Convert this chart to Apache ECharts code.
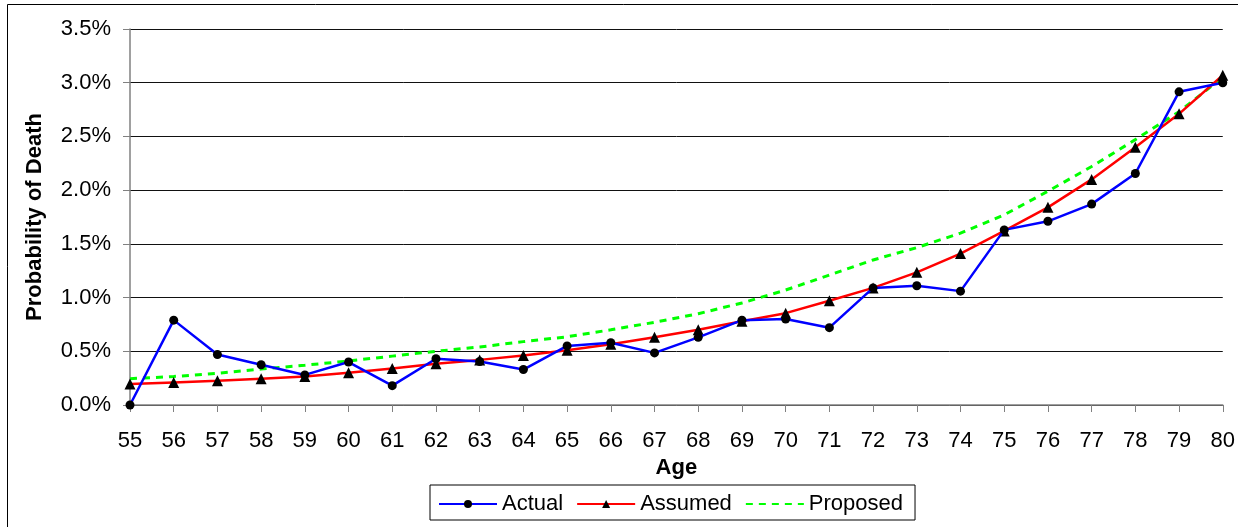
<!DOCTYPE html>
<html><head><meta charset="utf-8">
<script src="https://cdn.jsdelivr.net/npm/echarts@6/dist/echarts.min.js"></script>
<style>html,body{margin:0;padding:0;background:#fff}#c{width:1238px;height:527px}</style>
</head><body><div id="c"></div>
<script>
const ages = ['55','56','57','58','59','60','61','62','63','64','65','66','67','68','69','70','71','72','73','74','75','76','77','78','79','80'];
const actual = [0.00,0.79,0.47,0.375,0.28,0.40,0.18,0.43,0.405,0.33,0.55,0.58,0.485,0.63,0.79,0.80,0.72,1.09,1.11,1.06,1.63,1.71,1.87,2.155,2.915,3.00];
const assumed = [0.195,0.21,0.225,0.245,0.265,0.30,0.34,0.385,0.42,0.46,0.51,0.565,0.63,0.70,0.78,0.855,0.97,1.09,1.235,1.41,1.62,1.84,2.10,2.40,2.71,3.07];
const proposed = [0.245,0.265,0.295,0.335,0.37,0.41,0.455,0.50,0.54,0.59,0.635,0.70,0.77,0.85,0.95,1.07,1.21,1.35,1.465,1.60,1.77,1.99,2.22,2.47,2.73,3.05];
const yTicks = {min:0, max:3.5, step:0.5};

const chart = echarts.init(document.getElementById('c'));
const FONT = 'Liberation Sans, Arial, sans-serif';
chart.setOption({
  animation:false,
  backgroundColor:'#fff',
  graphic:[{type:'rect',shape:{x:7.5,y:4.5,width:1240,height:530},style:{fill:'none',stroke:'#000',lineWidth:1},silent:true}],
  grid:{left:130,right:15,top:29,bottom:122,containLabel:false},
  xAxis:{type:'category',data:ages,boundaryGap:false,
    name:'Age',nameLocation:'middle',nameGap:51,
    nameTextStyle:{fontFamily:FONT,fontSize:22,fontWeight:'bold',color:'#000'},
    axisLine:{lineStyle:{color:'#808080',width:1.5}},
    axisTick:{show:true,length:7,lineStyle:{color:'#808080'},alignWithLabel:true},
    axisLabel:{fontFamily:FONT,fontSize:22,color:'#000',margin:25},
    splitLine:{show:false}},
  yAxis:{type:'value',min:yTicks.min,max:yTicks.max,interval:yTicks.step,
    name:'Probability of Death',nameLocation:'middle',nameGap:84,nameRotate:90,
    nameTextStyle:{fontFamily:FONT,fontSize:22,fontWeight:'bold',color:'#000'},
    axisLine:{show:true,lineStyle:{color:'#808080',width:1.5}},
    axisTick:{show:true,length:7,lineStyle:{color:'#808080'}},
    axisLabel:{fontFamily:FONT,fontSize:22,color:'#000',margin:19,formatter:v=>v.toFixed(1)+'%'},
    splitLine:{show:true,lineStyle:{color:'#111',width:1}}},
  legend:{top:485,left:430,itemWidth:58,itemHeight:10,itemGap:13,
    borderColor:'#000',borderWidth:1,padding:[8,12,5,8],
    textStyle:{fontFamily:FONT,fontSize:22,color:'#000'},
    data:['Actual','Assumed',{name:'Proposed',itemStyle:{opacity:0}}]},
  series:[
    {name:'Proposed',type:'line',data:proposed,showSymbol:false,symbol:'none',
      lineStyle:{color:'#00ff00',width:3,type:[7,6]},itemStyle:{color:'#00ff00'},z:2},
    {name:'Assumed',type:'line',data:assumed,symbol:'triangle',symbolSize:11,
      lineStyle:{color:'#ff0000',width:2.5},itemStyle:{color:'#000'},z:3},
    {name:'Actual',type:'line',data:actual,symbol:'circle',symbolSize:9,
      lineStyle:{color:'#0000ff',width:2.5},itemStyle:{color:'#000'},z:4}
  ]
});
</script></body></html>
